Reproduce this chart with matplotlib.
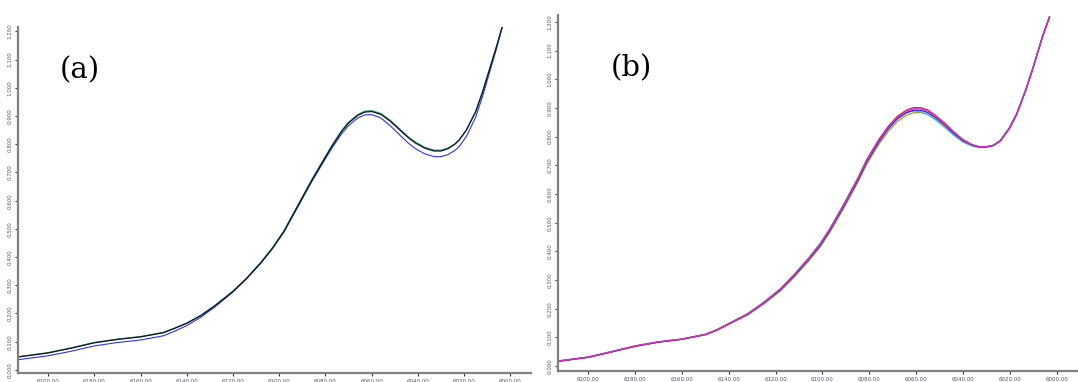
import numpy as np
import matplotlib.pyplot as plt

# panel (a): wavenumber and absorbance curves
xa = [6213, 6200, 6190, 6180, 6170, 6160, 6150, 6145, 6140, 6134, 6128, 6120, 6114, 6108,
      6103, 6098, 6092, 6086, 6081, 6077, 6073, 6070, 6066, 6063, 6060, 6056, 6052, 6048,
      6044, 6041, 6037, 6033, 6030, 6027, 6024, 6022, 6019, 6015, 6012, 6009, 6006, 6003.5]
a_black = [0.046, 0.060, 0.077, 0.096, 0.108, 0.117, 0.132, 0.148, 0.165, 0.192, 0.226, 0.278, 0.325, 0.379,
           0.430, 0.490, 0.580, 0.670, 0.740, 0.795, 0.845, 0.875, 0.902, 0.914, 0.916, 0.906, 0.882, 0.852,
           0.822, 0.804, 0.786, 0.776, 0.776, 0.784, 0.800, 0.816, 0.850, 0.915, 0.985, 1.065, 1.145, 1.216]
a_green = [0.046, 0.061, 0.078, 0.097, 0.109, 0.118, 0.133, 0.149, 0.166, 0.193, 0.227, 0.279, 0.326, 0.381,
           0.432, 0.492, 0.583, 0.673, 0.743, 0.798, 0.848, 0.878, 0.905, 0.917, 0.919, 0.909, 0.885, 0.855,
           0.825, 0.807, 0.789, 0.779, 0.779, 0.786, 0.801, 0.817, 0.851, 0.916, 0.986, 1.066, 1.146, 1.216]
a_blue = [0.036, 0.050, 0.066, 0.085, 0.097, 0.106, 0.121, 0.138, 0.157, 0.186, 0.222, 0.276, 0.324, 0.378,
          0.429, 0.488, 0.577, 0.666, 0.735, 0.789, 0.837, 0.866, 0.893, 0.904, 0.905, 0.893, 0.866, 0.834,
          0.803, 0.784, 0.766, 0.756, 0.756, 0.763, 0.778, 0.793, 0.828, 0.896, 0.970, 1.054, 1.138, 1.216]

# panel (b)
xb = [6213, 6200, 6190, 6180, 6170, 6160, 6150, 6145, 6140, 6132, 6125, 6118, 6112, 6106,
      6101, 6097, 6091, 6085, 6081, 6076, 6072, 6068, 6064, 6061, 6058, 6055, 6052, 6048,
      6044, 6040, 6036, 6033, 6030, 6027, 6024, 6020, 6017, 6013, 6010, 6006, 6003]
b_blue = [0.017, 0.031, 0.050, 0.070, 0.084, 0.094, 0.110, 0.126, 0.147, 0.180, 0.220, 0.265, 0.315, 0.370,
          0.420, 0.470, 0.555, 0.645, 0.712, 0.780, 0.826, 0.862, 0.884, 0.892, 0.892, 0.884, 0.868, 0.842,
          0.812, 0.786, 0.770, 0.764, 0.764, 0.769, 0.785, 0.830, 0.878, 0.965, 1.040, 1.148, 1.217]
b_red = [0.017, 0.031, 0.050, 0.069, 0.084, 0.094, 0.111, 0.127, 0.148, 0.182, 0.222, 0.268, 0.319, 0.374,
         0.425, 0.475, 0.561, 0.652, 0.720, 0.789, 0.835, 0.871, 0.893, 0.901, 0.901, 0.893, 0.876, 0.849,
         0.818, 0.790, 0.772, 0.765, 0.765, 0.770, 0.786, 0.831, 0.879, 0.966, 1.041, 1.148, 1.217]
b_magenta = [0.018, 0.032, 0.051, 0.071, 0.085, 0.095, 0.110, 0.126, 0.147, 0.181, 0.221, 0.267, 0.317, 0.372,
             0.423, 0.473, 0.558, 0.649, 0.716, 0.785, 0.831, 0.867, 0.889, 0.897, 0.897, 0.889, 0.872, 0.845,
             0.815, 0.788, 0.771, 0.765, 0.765, 0.769, 0.785, 0.830, 0.878, 0.965, 1.040, 1.148, 1.217]
b_cyan = [0.018, 0.032, 0.051, 0.070, 0.084, 0.094, 0.111, 0.128, 0.149, 0.183, 0.224, 0.270, 0.321, 0.377,
          0.428, 0.478, 0.564, 0.655, 0.722, 0.787, 0.831, 0.864, 0.884, 0.889, 0.887, 0.877, 0.860, 0.834,
          0.805, 0.781, 0.767, 0.762, 0.763, 0.770, 0.788, 0.834, 0.882, 0.969, 1.044, 1.150, 1.217]
b_olive = [0.016, 0.030, 0.049, 0.069, 0.083, 0.093, 0.109, 0.125, 0.146, 0.178, 0.217, 0.262, 0.311, 0.366,
           0.415, 0.465, 0.549, 0.639, 0.705, 0.772, 0.817, 0.853, 0.875, 0.883, 0.884, 0.877, 0.862, 0.837,
           0.808, 0.783, 0.768, 0.762, 0.763, 0.768, 0.784, 0.829, 0.877, 0.964, 1.039, 1.147, 1.217]

xticks = [6200, 6180, 6160, 6140, 6120, 6100, 6080, 6060, 6040, 6020, 6000]
yticks = [0.0, 0.1, 0.2, 0.3, 0.4, 0.5, 0.6, 0.7, 0.8, 0.9, 1.0, 1.1, 1.2]

fig = plt.figure(figsize=(10.78, 3.82), dpi=100)
ax1 = fig.add_axes([0.0167, 0.0236, 0.476, 0.906])
ax2 = fig.add_axes([0.5176, 0.0288, 0.482, 0.932])

ax1.plot(xa, a_blue, color='#3030ff', lw=0.8)
ax1.plot(xa, a_green, color='#20a060', lw=0.9)
ax1.plot(xa, a_black, color='#101030', lw=0.9)

ax2.plot(xb, b_olive, color='#a0a020', lw=0.9)
ax2.plot(xb, b_cyan, color='#40c0d0', lw=0.9)
ax2.plot(xb, b_blue, color='#2020e0', lw=0.9)
ax2.plot(xb, b_red, color='#e02040', lw=0.9)
ax2.plot(xb, b_magenta, color='#d030d0', lw=0.9)

for ax, ylim, lab, pos in [(ax1, (-0.011, 1.216), '(a)', (0.12, 0.875)),
                           (ax2, (-0.017, 1.224), '(b)', (0.142, 0.85))]:
    ax.set_xlim(6213, 5991)
    ax.set_ylim(*ylim)
    ax.set_xticks(xticks)
    ax.set_xticklabels(['%.2f' % t for t in xticks], fontsize=4, color='#556')
    ax.set_yticks(yticks)
    ax.set_yticklabels(['%.3f' % t for t in yticks], fontsize=4, color='#556',
                       rotation=90, va='center')
    ax.tick_params(length=2.5, width=0.8, color='#333', pad=1.5)
    for s in ['top', 'right']:
        ax.spines[s].set_visible(False)
    for s in ['left', 'bottom']:
        ax.spines[s].set_color('#808080')
        ax.spines[s].set_linewidth(1.6)
    ax.text(pos[0], pos[1], lab, transform=ax.transAxes, fontsize=21,
            family='DejaVu Serif', ha='center', va='center')

plt.savefig('out.png', dpi=100)
